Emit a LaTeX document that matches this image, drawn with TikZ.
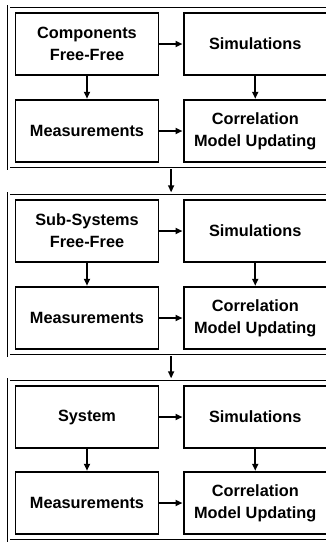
\documentclass[tikz,border=0pt]{standalone}
\usepackage{fontspec}
\setmainfont{Liberation Sans}
\usetikzlibrary{arrows.meta,fit,positioning}

\tikzset{
  stagebox/.style={draw=black, line width=1.5pt, minimum width=143pt, minimum height=62pt,
    inner sep=0pt, align=center, font=\fontsize{16.3}{21.7}\selectfont\bfseries},
  groupbox/.style={draw=black, line width=0.9pt, double=white, double distance=1.6pt,
    inner sep=6pt},
  arr/.style={-{Triangle[length=7pt,width=6pt]}, line width=1.8pt, shorten >=0.5pt}
}

\begin{document}
\begin{tikzpicture}[x=1pt, y=-1pt]
  \useasboundingbox (0,0) rectangle (326,542);
  \clip (0,0) rectangle (326,542);

  % first level: components
  \node[stagebox] (c1) at (87,44)    {Components\\Free-Free};
  \node[stagebox] (s1) at (255.25,44) {Simulations};
  \node[stagebox] (m1) at (87,131)   {Measurements};
  \node[stagebox] (r1) at (255.25,131) {Correlation\\Model Updating};
  \node[groupbox, fit=(c1)(r1)] (g1) {};

  % second level: sub-systems
  \node[stagebox] (c2) at (87,231)   {Sub-Systems\\Free-Free};
  \node[stagebox] (s2) at (255.25,231) {Simulations};
  \node[stagebox] (m2) at (87,318)   {Measurements};
  \node[stagebox] (r2) at (255.25,318) {Correlation\\Model Updating};
  \node[groupbox, fit=(c2)(r2)] (g2) {};

  % third level: full system
  \node[stagebox] (c3) at (87,417)   {System};
  \node[stagebox] (s3) at (255.25,417) {Simulations};
  \node[stagebox] (m3) at (87,503)   {Measurements};
  \node[stagebox] (r3) at (255.25,503) {Correlation\\Model Updating};
  \node[groupbox, fit=(c3)(r3)] (g3) {};

  % flow inside each level
  \foreach \i in {1,2,3}{
    \draw[arr] (c\i.east)  -- (s\i.west);
    \draw[arr] (c\i.south) -- (m\i.north);
    \draw[arr] (s\i.south) -- (r\i.north);
    \draw[arr] (m\i.east)  -- (r\i.west);
  }

  % flow between levels
  \draw[arr] (g1.south) -- (g2.north);
  \draw[arr] (g2.south) -- (g3.north);
\end{tikzpicture}
\end{document}
